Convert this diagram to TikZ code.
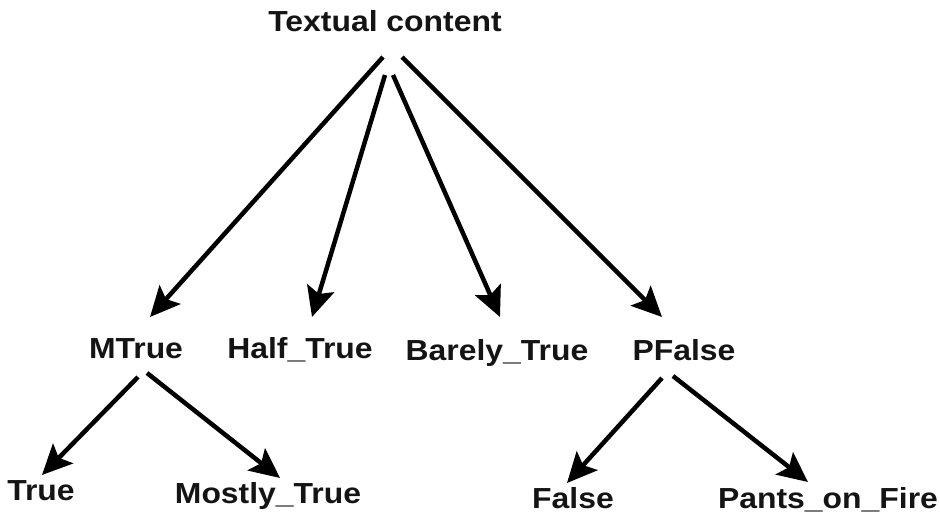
\documentclass[tikz,border=0pt]{standalone}
\usepackage{fontspec}
\setmainfont{Liberation Sans}[FakeStretch=1.1]
\usetikzlibrary{arrows.meta}
\begin{document}
\begin{tikzpicture}[x=1pt,y=-1pt,
  label/.style={anchor=base,inner sep=0pt,font=\bfseries\fontsize{29}{34}\selectfont,text=black!92},
  arr/.style={line width=4.5pt,-{Stealth[length=30pt,width=28pt,inset=6pt]}}]
\useasboundingbox (0,0) rectangle (940,516);
% root
\node[label] (tc) at (385,32) {Textual content};
% first level
\node[label] (mt) at (136,358) {MTrue};
\node[label] (ht) at (300,358) {Half\_True};
\node[label] (bt) at (497,360) {Barely\_True};
\node[label] (pf) at (684,360) {PFalse};
% second level
\node[label] (tr) at (41,500) {True};
\node[label] (mo) at (268,503) {Mostly\_True};
\node[label] (fa) at (573,508) {False};
\node[label] (po) at (828,508) {Pants\_on\_Fire};
% connectors from the root
\draw[arr] ([shift={(-2,25)}]tc.base) -- ([shift={(14,-41)}]mt.base);
\draw[arr] ([shift={(0,43)}]tc.base) -- ([shift={(12,-41)}]ht.base);
\draw[arr] ([shift={(8,43)}]tc.base) -- ([shift={(3,-43)}]bt.base);
\draw[arr] ([shift={(17,25)}]tc.base) -- ([shift={(-22,-43)}]pf.base);
% connectors below MTrue
\draw[arr] ([shift={(2,19)}]mt.base) -- ([shift={(1,-25)}]tr.base);
\draw[arr] ([shift={(11,15)}]mt.base) -- ([shift={(12,-25)}]mo.base);
% connectors below PFalse
\draw[arr] ([shift={(-22,18)}]pf.base) -- ([shift={(-6,-25)}]fa.base);
\draw[arr] ([shift={(-11,16)}]pf.base) -- ([shift={(-20,-26)}]po.base);
\end{tikzpicture}
\end{document}
